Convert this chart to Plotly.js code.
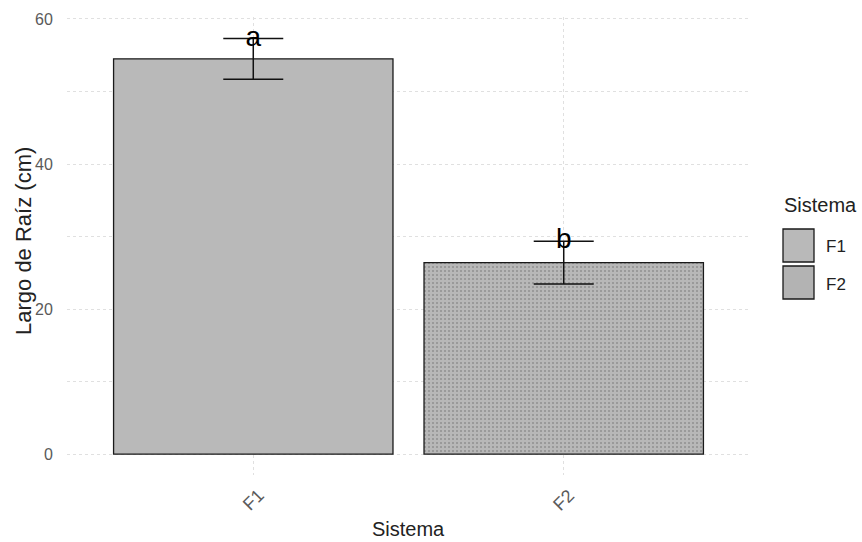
<!DOCTYPE html>
<html>
<head>
<meta charset="utf-8">
<script src="https://cdn.plot.ly/plotly-3.0.1.min.js"></script>
<style>html,body{margin:0;padding:0;background:#fff;}#chart{width:862px;height:542px;}</style>
</head>
<body>
<div id="chart"></div>
<script>
const categories = ['F1', 'F2'];
const means = [54.5, 26.4];
const se = [2.8, 2.95];
const letters = ['a', 'b'];
const xTitle = 'Sistema';
const yTitle = 'Largo de Raíz (cm)';
const legendTitle = 'Sistema';

const FONT = 'Liberation Sans, Arial, sans-serif';
const fill = '#b9b9b9';

const bars = {
  type: 'bar',
  x: categories,
  y: means,
  width: 0.9,
  marker: {
    color: [fill, '#b8b8b8'],
    line: {color: '#1a1a1a', width: 1.3},
    pattern: {shape: ['', '.'], fillmode: 'overlay', fgcolor: '#a0a0a0', fgopacity: 0.35, size: 4, solidity: 0.2}
  },
  error_y: {type: 'data', array: se, visible: true, color: '#111', thickness: 1.5, width: 30},
  showlegend: false,
  hoverinfo: 'skip'
};

const labelTrace = {
  type: 'scatter',
  mode: 'text',
  x: categories,
  y: means.map((m, i) => m + se[i]),
  text: letters,
  textposition: 'middle center',
  textfont: {family: FONT, size: 28, color: '#000'},
  showlegend: false,
  hoverinfo: 'skip'
};

const L = 67, R = 750, T = 17, B = 475;
const px = v => (v - L) / (R - L);
const py = v => (B - v) / (B - T);

const annotations = [];
categories.forEach(c => {
  annotations.push({x: c, xref: 'x', y: py(500), yref: 'paper', text: c, showarrow: false,
    textangle: -45, xanchor: 'center', yanchor: 'middle', font: {family: FONT, size: 18, color: '#5a5a5a'}});
});
annotations.push({x: 0.5, xref: 'paper', y: py(529), yref: 'paper', text: xTitle, showarrow: false,
  xanchor: 'center', yanchor: 'middle', font: {family: FONT, size: 20, color: '#222'}});
annotations.push({x: px(23), xref: 'paper', y: py(241), yref: 'paper', text: yTitle, showarrow: false,
  textangle: -90, xanchor: 'center', yanchor: 'middle', font: {family: FONT, size: 22, color: '#222'}});
annotations.push({x: px(782), xref: 'paper', y: py(205), yref: 'paper', text: legendTitle, showarrow: false,
  xanchor: 'left', yanchor: 'middle', font: {family: FONT, size: 20, color: '#222'}});

const shapes = [];
const keyTops = [229, 266];
const keyFills = ['#b9b9b9', '#b3b3b3'];
categories.forEach((c, i) => {
  shapes.push({type: 'rect', xref: 'paper', yref: 'paper', x0: px(783), x1: px(814),
    y0: py(keyTops[i] + 33), y1: py(keyTops[i]), fillcolor: keyFills[i], line: {color: '#1a1a1a', width: 1.3}});
  annotations.push({x: px(824), xref: 'paper', y: py(keyTops[i] + 18), yref: 'paper', text: c, showarrow: false,
    xanchor: 'left', yanchor: 'middle', font: {family: FONT, size: 17, color: '#222'}});
});

const layout = {
  width: 862, height: 542,
  margin: {l: L, r: 862 - R, t: T, b: 542 - B, pad: 0},
  paper_bgcolor: '#fff', plot_bgcolor: '#fff',
  font: {family: FONT},
  xaxis: {
    type: 'category', range: [-0.6, 1.6], showgrid: true, gridcolor: '#e0e0e0', griddash: 'dot', gridwidth: 1,
    showticklabels: false, zeroline: false, showline: false, ticks: '', fixedrange: true
  },
  yaxis: {
    range: [-2.87, 60.27], tickvals: [0, 20, 40, 60], showgrid: true, gridcolor: '#e0e0e0', griddash: 'dot', gridwidth: 1,
    minor: {tickvals: [10, 30, 50], showgrid: true, gridcolor: '#e0e0e0', griddash: 'dot', gridwidth: 1},
    zeroline: false, showline: false, ticks: 'outside', ticklen: 10, tickcolor: 'rgba(0,0,0,0)',
    tickfont: {family: FONT, size: 16, color: '#5a5a5a'}, fixedrange: true
  },
  showlegend: false,
  annotations: annotations,
  shapes: shapes
};

Plotly.newPlot('chart', [bars, labelTrace], layout, {displayModeBar: false, staticPlot: true});
</script>
</body>
</html>
